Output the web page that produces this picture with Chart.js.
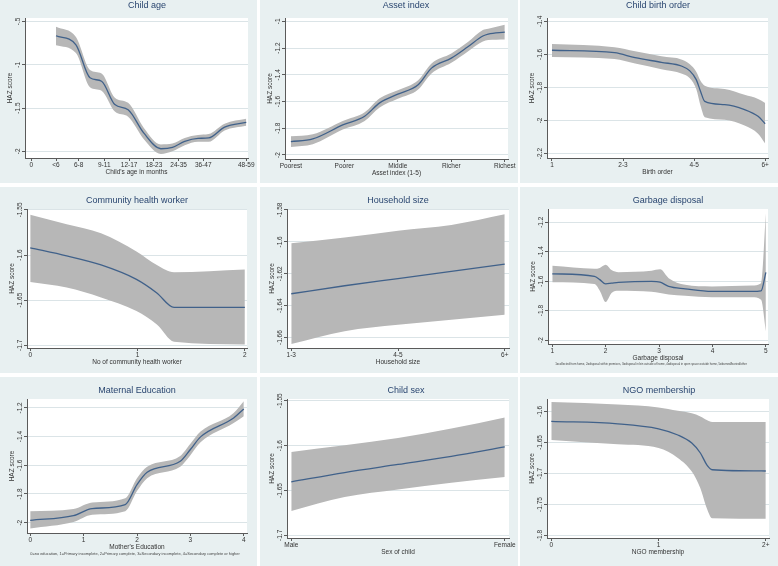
<!DOCTYPE html>
<html lang="en">
<head>
<meta charset="UTF-8">
<title>Predicted HAZ score by covariate</title>
<script src="https://cdn.jsdelivr.net/npm/chart.js"></script>
<style>
    body { margin: 0; background: #fff; }
    #grid { position: relative; width: 778px; height: 566px; }
    .panel { position: absolute; background: #e8f0f1; }
    .panel canvas { display: block; }
</style>
</head>
<body>
<div id="grid"></div>
<script>
// ---- values ----
const ageX   = [1.0, 1.81, 2.38, 2.85, 3.39, 3.93, 4.57, 5.26, 5.73, 6.23, 6.77, 7.2, 7.85, 8.73];
const ageFit = [-0.665, -0.77, -1.15, -1.19, -1.46, -1.52, -1.79, -1.97, -1.955, -1.885, -1.85, -1.845, -1.72, -1.665];
const ageHi  = [-0.56, -0.68, -1.06, -1.10, -1.38, -1.44, -1.73, -1.92, -1.91, -1.845, -1.81, -1.80, -1.68, -1.625];
const ageLo  = [-0.775, -0.865, -1.26, -1.30, -1.54, -1.60, -1.86, -2.03, -2.00, -1.93, -1.89, -1.89, -1.76, -1.705];
const ageTicks  = [0, 1, 1.92, 2.96, 3.97, 4.98, 5.98, 6.98, 8.73];
const ageLabels = ['0', '<6', '6-8', '9-11', '12-17', '18-23', '24-35', '36-47', '48-59'];
const ageYTicks = [-2, -1.5, -1, -0.5];
const ageYLabels = ['-2', '-1.5', '-1', '-.5'];

const assetX   = [1, 1.41, 1.97, 2.38, 2.66, 3.0, 3.38, 3.63, 4.0, 4.31, 4.59, 4.69, 5.0];
const assetFit = [-1.90, -1.88, -1.775, -1.71, -1.61, -1.545, -1.475, -1.35, -1.275, -1.19, -1.11, -1.095, -1.08];
const assetHi  = [-1.86, -1.845, -1.745, -1.68, -1.575, -1.515, -1.44, -1.315, -1.24, -1.155, -1.065, -1.055, -1.025];
const assetLo  = [-1.94, -1.92, -1.81, -1.745, -1.645, -1.58, -1.51, -1.39, -1.31, -1.225, -1.15, -1.14, -1.135];
const assetTicks  = [1, 2, 3, 4, 5];
const assetLabels = ['Poorest', 'Poorer', 'Middle', 'Richer', 'Richest'];
const assetYTicks = [-2, -1.8, -1.6, -1.4, -1.2, -1];
const assetYLabels = ['-2', '-1.8', '-1.6', '-1.4', '-1.2', '-1'];

const birthX   = [1, 1.88, 2.17, 2.54, 2.83, 2.94, 3.03, 3.09, 3.15, 3.43, 3.71, 3.9, 4.0];
const birthFit = [-1.575, -1.59, -1.62, -1.648, -1.672, -1.70, -1.753, -1.823, -1.884, -1.904, -1.934, -1.975, -2.02];
const birthHi  = [-1.537, -1.557, -1.581, -1.612, -1.632, -1.66, -1.705, -1.76, -1.79, -1.81, -1.845, -1.87, -1.894];
const birthLo  = [-1.616, -1.628, -1.656, -1.69, -1.717, -1.745, -1.81, -1.91, -1.98, -1.995, -2.03, -2.08, -2.14];
const birthTicks  = [1, 2, 3, 4];
const birthLabels = ['1', '2-3', '4-5', '6+'];
const birthYTicks = [-2.2, -2, -1.8, -1.6, -1.4];
const birthYLabels = ['-2.2', '-2', '-1.8', '-1.6', '-1.4'];

const chwX   = [0, 0.34, 0.66, 0.99, 1.18, 1.34, 2.0];
const chwFit = [-1.592, -1.601, -1.611, -1.627, -1.642, -1.658, -1.658];
const chwHi  = [-1.5555, -1.566, -1.576, -1.596, -1.611, -1.619, -1.616];
const chwLo  = [-1.630, -1.636, -1.647, -1.662, -1.677, -1.696, -1.699];
const chwTicks  = [0, 1, 2];
const chwLabels = ['0', '1', '2'];
const chwYTicks = [-1.7, -1.65, -1.6, -1.55];
const chwYLabels = ['-1.7', '-1.65', '-1.6', '-1.55'];

const hhX   = [1, 1.5, 2, 2.5, 3];
const hhFit = [-1.6325, -1.6275, -1.623, -1.6185, -1.614];
const hhHi  = [-1.6008, -1.5973, -1.593, -1.5894, -1.5827];
const hhLo  = [-1.664, -1.656, -1.652, -1.6488, -1.6456];
const hhTicks  = [1, 2, 3];
const hhLabels = ['1-3', '4-5', '6+'];
const hhYTicks = [-1.66, -1.64, -1.62, -1.6, -1.58];
const hhYLabels = ['-1.66', '-1.64', '-1.62', '-1.6', '-1.58'];

const garbX   = [1, 1.79, 1.89, 2.0, 2.11, 2.24, 2.86, 3.02, 3.18, 3.49, 3.99, 4.74, 4.91, 5.0];
const garbFit = [-1.55, -1.568, -1.59, -1.618, -1.614, -1.609, -1.602, -1.607, -1.636, -1.652, -1.67, -1.67, -1.666, -1.54];
const garbHi  = [-1.496, -1.516, -1.51, -1.489, -1.525, -1.539, -1.53, -1.52, -1.58, -1.625, -1.636, -1.63, -1.614, -1.14];
const garbLo  = [-1.607, -1.62, -1.665, -1.742, -1.681, -1.665, -1.672, -1.681, -1.69, -1.70, -1.71, -1.71, -1.727, -1.94];
const garbTicks  = [1, 2, 3, 4, 5];
const garbLabels = ['1', '2', '3', '4', '5'];
const garbYTicks = [-2, -1.8, -1.6, -1.4, -1.2];
const garbYLabels = ['-2', '-1.8', '-1.6', '-1.4', '-1.2'];

const matX   = [0, 0.81, 1.16, 1.78, 2.0, 2.19, 2.81, 3.0, 3.19, 3.81, 4.0];
const matFit = [-1.984, -1.951, -1.902, -1.874, -1.735, -1.649, -1.572, -1.49, -1.402, -1.27, -1.207];
const matHi  = [-1.92, -1.905, -1.86, -1.83, -1.69, -1.61, -1.535, -1.45, -1.365, -1.235, -1.153];
const matLo  = [-2.04, -1.995, -1.945, -1.92, -1.78, -1.69, -1.61, -1.53, -1.44, -1.305, -1.258];
const matTicks  = [0, 1, 2, 3, 4];
const matLabels = ['0', '1', '2', '3', '4'];
const matYTicks = [-2, -1.8, -1.6, -1.4, -1.2];
const matYLabels = ['-2', '-1.8', '-1.6', '-1.4', '-1.2'];

const sexX   = [0, 0.25, 0.5, 0.75, 1];
const sexFit = [-1.6404, -1.630, -1.621, -1.612, -1.6015];
const sexHi  = [-1.607, -1.5996, -1.5915, -1.581, -1.5685];
const sexLo  = [-1.673, -1.6574, -1.649, -1.6415, -1.635];
const sexTicks  = [0, 1];
const sexLabels = ['Male', 'Female'];
const sexYTicks = [-1.7, -1.65, -1.6, -1.55];
const sexYLabels = ['-1.7', '-1.65', '-1.6', '-1.55'];

const ngoX   = [0, 0.62, 1.0, 1.18, 1.31, 1.39, 1.45, 1.5, 2.0];
const ngoFit = [-1.616, -1.62, -1.628, -1.638, -1.651, -1.667, -1.686, -1.694, -1.696];
const ngoHi  = [-1.585, -1.589, -1.5935, -1.599, -1.603, -1.608, -1.614, -1.617, -1.617];
const ngoLo  = [-1.646, -1.653, -1.659, -1.675, -1.697, -1.724, -1.756, -1.772, -1.773];
const ngoTicks  = [0, 1, 2];
const ngoLabels = ['0', '1', '2+'];
const ngoYTicks = [-1.8, -1.75, -1.7, -1.65, -1.6];
const ngoYLabels = ['-1.8', '-1.75', '-1.7', '-1.65', '-1.6'];

const garbNote = '1=collected from home, 2=disposal within premises, 3=disposal in bin outside of home, 4=disposal in open space outside home, 5=burned/buried/other';
const matNote = '0=no education, 1=Primary incomplete, 2=Primary complete, 3=Secondary incomplete, 4=Secondary complete or higher';

// ---- look ----
const FONT = '"Liberation Sans", Arial, sans-serif';
const LINE = '#40618a';
const BAND = '#b7b7b7';
const GRID = '#dbe4e7';
const AXIS = '#5a5a5a';
const TEXT = '#333333';
const TITLE = '#2a4670';

const colLeft = [0, 260, 520], colW = [257, 258, 258];
const rowTop = [0, 187, 377], rowH = [183, 186, 189];
const rowTitleY = [5.5, 14, 14];

const panels = [
    {title: 'Child age', tx: 147, col: 0, row: 0, plotLeft: 25, right: 248, plotTop: 18, plotBottom: 158,
     x: ageX, fit: ageFit, hi: ageHi, lo: ageLo, xTicks: ageTicks, xLabels: ageLabels, xMin: -0.26, xMax: 8.8,
     yTicks: ageYTicks, yLabels: ageYLabels, yMin: -2.077, yMax: -0.46, xTitle: "Child's age in months"},
    {title: 'Asset index', tx: 146, col: 1, row: 0, plotLeft: 25, right: 248, plotTop: 18, plotBottom: 159,
     x: assetX, fit: assetFit, hi: assetHi, lo: assetLo, xTicks: assetTicks, xLabels: assetLabels, xMin: 0.89, xMax: 5.06,
     yTicks: assetYTicks, yLabels: assetYLabels, yMin: -2.03, yMax: -0.975, xTitle: 'Asset index (1-5)'},
    {title: 'Child birth order', tx: 138, col: 2, row: 0, plotLeft: 27, right: 248, plotTop: 18, plotBottom: 158,
     x: birthX, fit: birthFit, hi: birthHi, lo: birthLo, xTicks: birthTicks, xLabels: birthLabels, xMin: 0.93, xMax: 4.04,
     yTicks: birthYTicks, yLabels: birthYLabels, yMin: -2.227, yMax: -1.38, xTitle: 'Birth order'},
    {title: 'Community health worker', tx: 137, col: 0, row: 1, plotLeft: 27, right: 247, plotTop: 22, plotBottom: 161,
     x: chwX, fit: chwFit, hi: chwHi, lo: chwLo, xTicks: chwTicks, xLabels: chwLabels, xMin: -0.03, xMax: 2.02,
     yTicks: chwYTicks, yLabels: chwYLabels, yMin: -1.703, yMax: -1.549, xTitle: 'No of community health worker'},
    {title: 'Household size', tx: 138, col: 1, row: 1, plotLeft: 27, right: 249, plotTop: 22, plotBottom: 161,
     x: hhX, fit: hhFit, hi: hhHi, lo: hhLo, xTicks: hhTicks, xLabels: hhLabels, xMin: 0.96, xMax: 3.04,
     yTicks: hhYTicks, yLabels: hhYLabels, yMin: -1.6665, yMax: -1.5794, xTitle: 'Household size'},
    {title: 'Garbage disposal', tx: 148, col: 2, row: 1, plotLeft: 28, right: 248, plotTop: 22, plotBottom: 157,
     x: garbX, fit: garbFit, hi: garbHi, lo: garbLo, xTicks: garbTicks, xLabels: garbLabels, xMin: 0.92, xMax: 5.04,
     yTicks: garbYTicks, yLabels: garbYLabels, yMin: -2.027, yMax: -1.11, xTitle: 'Garbage disposal',
     note: garbNote, noteX: 131, noteW: 193},
    {title: 'Maternal Education', tx: 137, col: 0, row: 2, plotLeft: 27, right: 247, plotTop: 22, plotBottom: 156,
     x: matX, fit: matFit, hi: matHi, lo: matLo, xTicks: matTicks, xLabels: matLabels, xMin: -0.06, xMax: 4.06,
     yTicks: matYTicks, yLabels: matYLabels, yMin: -2.072, yMax: -1.138, xTitle: "Mother's Education",
     note: matNote, noteX: 135, noteW: 210},
    {title: 'Child sex', tx: 146, col: 1, row: 2, plotLeft: 27, right: 249, plotTop: 22, plotBottom: 161,
     x: sexX, fit: sexFit, hi: sexHi, lo: sexLo, xTicks: sexTicks, xLabels: sexLabels, xMin: -0.02, xMax: 1.02,
     yTicks: sexYTicks, yLabels: sexYLabels, yMin: -1.703, yMax: -1.548, xTitle: 'Sex of child'},
    {title: 'NGO membership', tx: 139, col: 2, row: 2, plotLeft: 27, right: 249, plotTop: 22, plotBottom: 161,
     x: ngoX, fit: ngoFit, hi: ngoHi, lo: ngoLo, xTicks: ngoTicks, xLabels: ngoLabels, xMin: -0.04, xMax: 2.03,
     yTicks: ngoYTicks, yLabels: ngoYLabels, yMin: -1.804, yMax: -1.58, xTitle: 'NGO membership'}
];

// white plot region behind the data
const plotBg = {
    id: 'plotBg',
    beforeDraw(chart) {
        const a = chart.chartArea, ctx = chart.ctx;
        ctx.save();
        ctx.fillStyle = '#ffffff';
        ctx.fillRect(a.left, a.top, a.right - a.left, a.bottom - a.top);
        ctx.restore();
    }
};

// panel title, vertical y tick labels (Stata style) and footnotes
function panelText(p, titleY) {
    return {
        id: 'panelText',
        afterDraw(chart) {
            const ctx = chart.ctx, ys = chart.scales.y;
            ctx.save();
            ctx.textAlign = 'center';
            ctx.textBaseline = 'middle';
            ctx.fillStyle = TEXT;
            ctx.font = '6.5px ' + FONT;
            p.yTicks.forEach((v, i) => {
                ctx.save();
                ctx.translate(chart.chartArea.left - 6.5, ys.getPixelForValue(v));
                ctx.rotate(-Math.PI / 2);
                ctx.fillText(p.yLabels[i], 0, 0);
                ctx.restore();
            });
            ctx.fillStyle = TITLE;
            ctx.font = '9px ' + FONT;
            ctx.fillText(p.title, p.tx, titleY);
            if (p.note) {
                ctx.font = '4px ' + FONT;
                const size = 4 * p.noteW / ctx.measureText(p.note).width;
                ctx.font = size.toFixed(2) + 'px ' + FONT;
                ctx.fillStyle = '#444';
                ctx.fillText(p.note, p.noteX, 177);
            }
            ctx.restore();
        }
    };
}

function makePanel(p) {
    const w = colW[p.col], h = rowH[p.row];
    const div = document.createElement('div');
    div.className = 'panel';
    div.style.left = colLeft[p.col] + 'px';
    div.style.top = rowTop[p.row] + 'px';
    div.style.width = w + 'px';
    div.style.height = h + 'px';
    const cv = document.createElement('canvas');
    cv.width = w;
    cv.height = h;
    div.appendChild(cv);
    document.getElementById('grid').appendChild(div);

    const pts = ys => p.x.map((x, i) => ({x: x, y: ys[i]}));
    const xh = h - p.plotBottom;
    const common = {pointRadius: 0, cubicInterpolationMode: 'monotone'};

    new Chart(cv, {
        type: 'line',
        data: {
            datasets: [
                Object.assign({data: pts(p.fit), borderColor: LINE, borderWidth: 1.3, fill: false}, common),
                Object.assign({data: pts(p.hi), borderWidth: 0, borderColor: BAND, backgroundColor: BAND, fill: '+1'}, common),
                Object.assign({data: pts(p.lo), borderWidth: 0, borderColor: BAND, fill: false}, common)
            ]
        },
        options: {
            responsive: false,
            animation: false,
            events: [],
            layout: {padding: {left: 0, right: w - p.right, top: p.plotTop, bottom: 0}},
            plugins: {legend: {display: false}, tooltip: {enabled: false}, title: {display: false}},
            scales: {
                x: {
                    type: 'linear', min: p.xMin, max: p.xMax, bounds: 'data',
                    afterBuildTicks: s => { s.ticks = p.xTicks.map(v => ({value: v})); },
                    afterFit: s => { s.height = xh; s.paddingLeft = 0; s.paddingRight = 0; },
                    ticks: {autoSkip: false, maxRotation: 0, minRotation: 0, padding: 0, color: TEXT,
                            font: {family: FONT, size: 6.5}, callback: (v, i) => p.xLabels[i]},
                    grid: {drawOnChartArea: false, drawTicks: true, tickLength: 3, tickColor: AXIS},
                    border: {display: true, color: AXIS, width: 1},
                    title: {display: true, text: p.xTitle, color: TEXT, font: {family: FONT, size: 6.5},
                            padding: {top: 0, bottom: xh - 14 - 3.9}}
                },
                y: {
                    type: 'linear', min: p.yMin, max: p.yMax, bounds: 'data',
                    afterBuildTicks: s => { s.ticks = p.yTicks.map(v => ({value: v})); },
                    afterFit: s => { s.width = p.plotLeft; s.paddingTop = 0; s.paddingBottom = 0; },
                    ticks: {display: false},
                    grid: {color: GRID, lineWidth: 1, drawTicks: true, tickLength: 3, tickColor: AXIS},
                    border: {display: true, color: AXIS, width: 1},
                    title: {display: true, text: 'HAZ score', color: TEXT, font: {family: FONT, size: 6.5},
                            padding: {top: p.plotLeft - 15 - 3.9, bottom: 0}}
                }
            }
        },
        plugins: [plotBg, panelText(p, rowTitleY[p.row])]
    });
}

panels.forEach(makePanel);
</script>
</body>
</html>
